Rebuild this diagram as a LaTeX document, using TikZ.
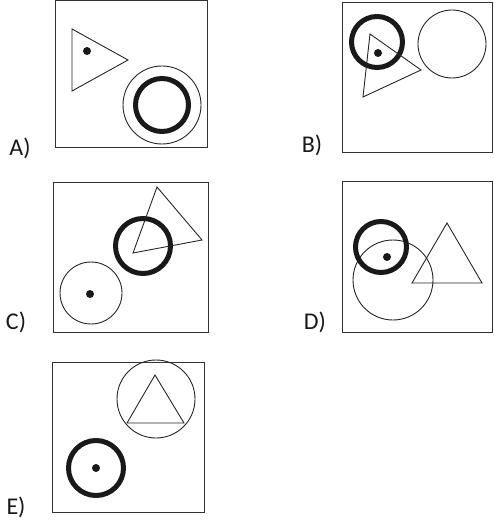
\documentclass[tikz,border=0pt]{standalone}
\usepackage{fontspec}
\setmainfont{Carlito}
\begin{document}
\begin{tikzpicture}[x=1pt,y=-1pt,
  frame/.style={draw=black!80,line width=1pt},
  thin/.style={draw=black!85,line width=0.9pt},
  thick/.style={draw=black!90,line width=5pt},
  lab/.style={font=\fontsize{24}{28}\selectfont,text=black!90,inner sep=0pt}]
\useasboundingbox (0,0) rectangle (493,521);
% A
\draw[frame] (55,0.5) rectangle (207,148);
\node[lab] (la) at (20,148) {A)};
\draw[thin] (72,29) -- (72,91) -- (128,60) -- cycle;
\fill[black!90] (87,51) circle (4);
\draw[thin] (162,105) circle (39);
\draw[thick] (162,105) circle (26.5);
% B
\draw[frame] (342,3) rectangle (492,153);
\node[lab] (lb) at (312,145) {B)};
\draw[thick] (377,42) circle (25.5);
\draw[thin] (370,34) -- (363,97) -- (421,70) -- cycle;
\fill[black!90] (378,53) circle (4);
\draw[thin] (452,44) circle (34);
% C
\draw[frame] (53,183) rectangle (208,332);
\node[lab] (lc) at (16,322) {C)};
\draw[thick] (143,246) circle (27.5);
\draw[thin] (157,187) -- (133,253) -- (202,240) -- cycle;
\draw[thin] (91,293) circle (31);
\fill[black!90] (90,294) circle (4);
% D
\draw[frame] (342,182) rectangle (492.5,332);
\node[lab] (ld) at (315,322) {D)};
\draw[thin] (393,280) circle (40);
\draw[thick] (381,247) circle (25.5);
\fill[black!90] (387,257) circle (4);
\draw[thin] (447,223) -- (412,283) -- (482,283) -- cycle;
% E
\draw[frame] (52,362) rectangle (204,512);
\node[lab] (le) at (16,507) {E)};
\draw[thin] (156,399) circle (39);
\draw[thin] (155,375) -- (127,423) -- (184,423) -- cycle;
\draw[thick] (96,468) circle (27.5);
\fill[black!90] (96,468) circle (4);
\end{tikzpicture}
\end{document}
